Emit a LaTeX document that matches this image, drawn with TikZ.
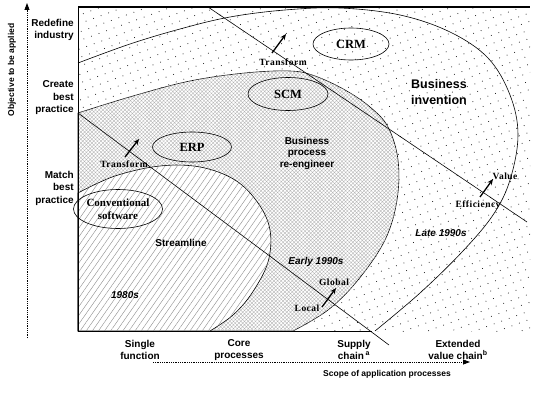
\documentclass[tikz,border=0pt]{standalone}
\usepackage{fontspec}
\setmainfont{Liberation Serif}
\setsansfont{Liberation Sans}
\newfontfamily\tagfont[LetterSpace=5]{Liberation Serif}
\usetikzlibrary{patterns.meta,arrows.meta,shapes.geometric}

\begin{document}
\begin{tikzpicture}[x=1pt,y=-1pt,line width=0.6pt]
        \tikzstyle{ylabel}=[font=\sffamily\bfseries\fontsize{10}{12.5}\selectfont,align=right,anchor=east,inner sep=0pt]
        \tikzstyle{xlabel}=[font=\sffamily\bfseries\fontsize{10}{12}\selectfont,align=center,inner sep=0pt]
        \tikzstyle{title}=[font=\sffamily\bfseries\fontsize{8.5}{10}\selectfont,inner sep=0pt]
        \tikzstyle{region}=[font=\sffamily\bfseries\fontsize{10}{11.5}\selectfont,align=center,inner sep=0pt]
        \tikzstyle{era}=[font=\sffamily\bfseries\itshape\fontsize{10}{12}\selectfont,inner sep=0pt]
        \tikzstyle{system}=[draw,ellipse,font=\rmfamily\bfseries\fontsize{12.5}{14}\selectfont,align=center,inner sep=0pt]
        \tikzstyle{tag}=[font=\tagfont\bfseries\fontsize{9.5}{10}\selectfont,inner sep=0pt]
        \tikzstyle{movearrow}=[line width=1.3pt,-{Stealth[length=6pt,width=5pt]}]
        \tikzstyle{axisarrow}=[densely dotted,line width=0.8pt,-{Triangle[length=7pt,width=5pt]}]

        \useasboundingbox (0,0) rectangle (535,393);

        \fill[pattern={Dots[distance=8pt,angle=20,radius=0.55pt]},pattern color=black!85]
          (78,7) rectangle (530,331);

        \filldraw[fill=white,postaction={pattern={Hatch[distance=2.6pt,angle=45,line width=0.35pt]},pattern color=black!30}]
          plot[smooth,tension=0.6] coordinates {(78,113) (133,96) (190,81) (245,73) (290,71) (315,76) (345,90)
            (370,107) (388,127) (398,160) (397,200) (385,240) (358,280) (328,310) (293,331)} -- (78,331) -- cycle;

        \filldraw[fill=white,postaction={pattern={Lines[distance=5pt,angle=55,line width=0.4pt]},pattern color=black!45}]
          plot[smooth,tension=0.6] coordinates {(78,193) (115,176) (160,166) (200,167) (235,180) (258,203)
            (270,230) (268,262) (252,293) (233,315) (210,331)} -- (78,331) -- cycle;

        \draw plot[smooth,tension=0.6] coordinates {(78,63) (130,44) (180,29) (230,17) (285,10) (340,8) (400,15)
          (450,32) (488,58) (510,95) (518,135) (510,180) (493,215) (462,252) (420,293) (375,331)};

        \coordinate (lnA-s) at (208,7);
        \coordinate (lnA-e) at (527,222);
        \coordinate (lnB-s) at (78,113);
        \coordinate (lnB-e) at (389,345);
        \draw (lnA-s) -- (lnA-e);
        \draw (lnB-s) -- (lnB-e);

        \draw[line width=1.3pt] (78,7) -- (530,7);
        \draw (78,7) -- (78,331) -- (372,331);

        \foreach \name/\x/\y/\w/\h/\lbl in {crm/351/44/76/32/CRM, scm/288/94/80/33/SCM, erp/192/147/79/30/ERP}
          \node[system,minimum width=\w,minimum height=\h] (\name) at (\x,\y) {\lbl};
        \node[system,minimum width=80,minimum height=39,font=\rmfamily\bfseries\fontsize{11}{13.5}\selectfont]
          (conv) at (118,209) {Conventional\\software};

        \foreach \name/\x/\y/\lbl in {trans-up/283/62/Transform, trans-low/124/164/Transform, value/505/176/Value,
                                       efficiency/478/205/Efficiency, global/334/282/Global, local/307/308/Local}
          \node[tag] (\name) at (\x,\y) {\lbl};

        \foreach \name/\sx/\sy/\ex/\ey in {tup/272/53/286/34, tlow/125/157/139/139,
                                            val/480/197/493/179, loc/322/307/336/288}
          { \coordinate (\name-s) at (\sx,\sy);
            \coordinate (\name-e) at (\ex,\ey);
            \draw[movearrow] (\name-s) -- (\name-e); }

        \node[region,font=\sffamily\bfseries\fontsize{12.5}{16}\selectfont] (invention) at (439,92) {Business\\invention};
        \node[region] (bpr) at (307,153) {Business\\process\\re-engineer};
        \node[region] (streamline) at (181,243) {Streamline};

        \foreach \name/\x/\y/\lbl in {eighties/125/295/1980s, early/316/262/Early 1990s, late/441/233/Late 1990s}
          \node[era] (\name) at (\x,\y) {\lbl};

        \foreach \name/\y/\lbl in {redefine/30/Redefine\\industry, create/98/Create\\best\\practice,
                                    match/188/Match\\best\\practice}
          \node[ylabel] (\name) at (74,\y) {\lbl};

        \foreach \name/\x/\lbl in {single/140/Single\\function, core/239/Core\\processes,
                                    supply/354/Supply\\chain\,\textsuperscript{a},
                                    extended/458/Extended\\value chain\textsuperscript{b}}
          \node[xlabel] (\name) at (\x,350) {\lbl};

        \coordinate (yaxis-s) at (27,338);
        \coordinate (yaxis-e) at (27,3);
        \coordinate (xaxis-s) at (153,362);
        \coordinate (xaxis-e) at (470,362);
        \draw[axisarrow] (yaxis-s) -- (yaxis-e);
        \draw[axisarrow] (xaxis-s) -- (xaxis-e);

        \node[title,rotate=90] (objective) at (12,70) {Objective to be applied};
        \node[title] (scope) at (387,374) {Scope of application processes};
      \end{tikzpicture}
\end{document}
